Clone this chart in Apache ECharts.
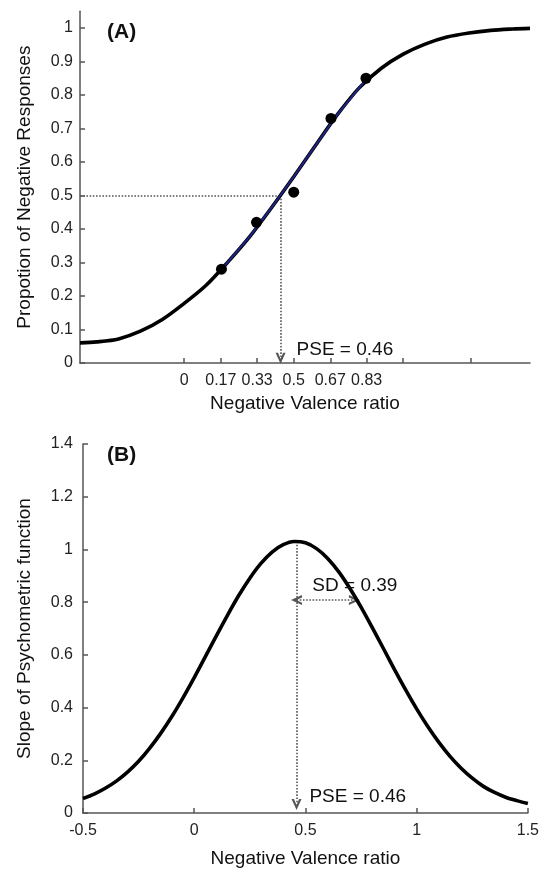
<!DOCTYPE html>
<html><head><meta charset="utf-8">
<script src="https://cdn.jsdelivr.net/npm/echarts@6.0.0/dist/echarts.min.js"></script>
<style>html,body{margin:0;padding:0;background:#fff}#c{width:542px;height:870px}</style>
</head><body><div id="c"></div>
<script>
// ---------- Panel (A): psychometric function ----------
const curveAx = [-0.476, -0.4, -0.3, -0.2, -0.1, 0, 0.1, 0.2, 0.3, 0.4, 0.5, 0.6, 0.7, 0.8, 0.9, 1.0, 1.1, 1.2, 1.3, 1.4, 1.5, 1.579];
const curveAy = [0.060, 0.063, 0.072, 0.095, 0.130, 0.178, 0.232, 0.302, 0.378, 0.465, 0.556, 0.650, 0.742, 0.822, 0.880, 0.922, 0.952, 0.973, 0.985, 0.993, 0.997, 0.999];
// fitted segment (drawn in dark blue over the black curve)
const fitAx = [0.17, 0.2, 0.3, 0.4, 0.5, 0.6, 0.7, 0.8, 0.83];
const fitAy = [0.280, 0.302, 0.378, 0.465, 0.556, 0.650, 0.742, 0.822, 0.845];
const dotsAx = [0.17, 0.33, 0.5, 0.67, 0.83];
const dotsAy = [0.28, 0.42, 0.51, 0.73, 0.85];
const xTickValuesA = [0, 0.167, 0.333, 0.5, 0.667, 0.833, 1.0, 1.31];
const xTickLabelsA = ['0', '0.17', '0.33', '0.5', '0.67', '0.83'];
const yTickValuesA = [0, 0.1, 0.2, 0.3, 0.4, 0.5, 0.6, 0.7, 0.8, 0.9, 1];
const yTickLabelsA = ['0', '0.1', '0.2', '0.3', '0.4', '0.5', '0.6', '0.7', '0.8', '0.9', '1'];
const pseDrawnA = 0.44;
const pseLevelA = 0.5;
const pseTextA = 'PSE = 0.46';
const xNameA = 'Negative Valence ratio';
const yNameA = 'Propotion of Negative Responses';

// ---------- Panel (B): slope of psychometric function ----------
const curveBx = [-0.5, -0.45, -0.4, -0.35, -0.3, -0.25, -0.2, -0.15, -0.1, -0.05, 0, 0.05, 0.1, 0.15, 0.2, 0.25, 0.3, 0.35, 0.4, 0.45, 0.5, 0.55, 0.6, 0.65, 0.7, 0.75, 0.8, 0.85, 0.9, 0.95, 1.0, 1.05, 1.1, 1.15, 1.2, 1.25, 1.3, 1.35, 1.4, 1.45, 1.5];
const curveBy = [0.055, 0.072, 0.094, 0.121, 0.155, 0.196, 0.246, 0.303, 0.367, 0.438, 0.514, 0.593, 0.673, 0.751, 0.825, 0.891, 0.947, 0.990, 1.018, 1.030, 1.025, 1.003, 0.966, 0.915, 0.852, 0.781, 0.704, 0.625, 0.545, 0.468, 0.395, 0.328, 0.268, 0.215, 0.170, 0.132, 0.101, 0.078, 0.060, 0.047, 0.036];
const pseDrawnB = 0.46;
const pseTextB = 'PSE = 0.46';
const sdFromB = 0.46, sdToB = 0.72, sdLevelB = 0.808;
const sdTextB = 'SD = 0.39';
const xNameB = 'Negative Valence ratio';
const yNameB = 'Slope of Psychometric function';

const FONT = "'Liberation Sans', Arial, sans-serif";
const chevron = 'path://M0,10 L5,0 L10,10 L7.6,10 L5,4.6 L2.4,10 Z';
const zip = (xs, ys) => xs.map((x, i) => [x, ys[i]]);
const lookup = (vals, labels) => (v) => { const i = vals.findIndex(t => Math.abs(t - v) < 1e-6); return i >= 0 && i < labels.length ? labels[i] : ''; };

const axisLineStyle = { color: '#555', width: 1.5 };
const dotted = { color: '#555', type: 'dotted', width: 1.6 };

const chart = echarts.init(document.getElementById('c'), null, { renderer: 'canvas' });
chart.setOption({
  animation: false,
  backgroundColor: '#fff',
  textStyle: { fontFamily: FONT },
  title: [
    { text: '(A)', left: 107, top: 22, padding: 0, textStyle: { fontFamily: FONT, fontSize: 21, fontWeight: 'bold', color: '#111' } },
    { text: '(B)', left: 107, top: 445, padding: 0, textStyle: { fontFamily: FONT, fontSize: 21, fontWeight: 'bold', color: '#111' } }
  ],
  grid: [
    { left: 80, right: 12, top: 11.25, height: 351.75 },
    { left: 83, right: 9, top: 444, height: 369 }
  ],
  xAxis: [
    {
      gridIndex: 0, type: 'value', min: -0.476, max: 1.579,
      name: xNameA, nameLocation: 'middle', nameGap: 31,
      nameTextStyle: { fontFamily: FONT, fontSize: 19, color: '#111' },
      axisLine: { show: true, onZero: false, lineStyle: axisLineStyle },
      axisTick: { show: true, inside: true, length: 5, lineStyle: axisLineStyle, customValues: xTickValuesA },
      axisLabel: { show: true, margin: 10, fontFamily: FONT, fontSize: 16, color: '#222', customValues: xTickValuesA.slice(0, xTickLabelsA.length), formatter: lookup(xTickValuesA, xTickLabelsA) },
      splitLine: { show: false }
    },
    {
      gridIndex: 1, type: 'value', min: -0.5, max: 1.5, interval: 0.5,
      name: xNameB, nameLocation: 'middle', nameGap: 36,
      nameTextStyle: { fontFamily: FONT, fontSize: 19, color: '#111' },
      axisLine: { show: true, onZero: false, lineStyle: axisLineStyle },
      axisTick: { show: true, inside: true, length: 5, lineStyle: axisLineStyle },
      axisLabel: { show: true, margin: 10, fontFamily: FONT, fontSize: 16, color: '#222', showMaxLabel: true, showMinLabel: true },
      splitLine: { show: false }
    }
  ],
  yAxis: [
    {
      gridIndex: 0, type: 'value', min: 0, max: 1.05,
      name: yNameA, nameLocation: 'middle', nameGap: 46,
      nameTextStyle: { fontFamily: FONT, fontSize: 19, color: '#111' },
      axisLine: { show: true, onZero: false, lineStyle: axisLineStyle },
      axisTick: { show: true, inside: true, length: 5, lineStyle: axisLineStyle, customValues: yTickValuesA },
      axisLabel: { show: true, margin: 7, fontFamily: FONT, fontSize: 16, color: '#222', customValues: yTickValuesA, formatter: lookup(yTickValuesA, yTickLabelsA) },
      splitLine: { show: false }
    },
    {
      gridIndex: 1, type: 'value', min: 0, max: 1.4, interval: 0.2,
      name: yNameB, nameLocation: 'middle', nameGap: 49,
      nameTextStyle: { fontFamily: FONT, fontSize: 19, color: '#111' },
      axisLine: { show: true, onZero: false, lineStyle: axisLineStyle },
      axisTick: { show: true, inside: true, length: 5, lineStyle: axisLineStyle },
      axisLabel: { show: true, margin: 10, fontFamily: FONT, fontSize: 16, color: '#222' },
      splitLine: { show: false }
    }
  ],
  series: [
    {
      type: 'line', xAxisIndex: 0, yAxisIndex: 0, data: zip(curveAx, curveAy),
      smooth: 0.3, showSymbol: false, symbol: 'none',
      lineStyle: { color: '#000', width: 3.6 }, z: 3,
      markLine: {
        silent: true, symbol: 'none', label: { show: false }, lineStyle: dotted, z: 2,
        data: [
          [{ coord: [-0.476, pseLevelA], symbol: 'none' }, { coord: [pseDrawnA, pseLevelA], symbol: 'none' }],
          [{ coord: [pseDrawnA, pseLevelA], symbol: 'none' }, { coord: [pseDrawnA, 0.014], symbol: chevron, symbolSize: [10, 11] }]
        ]
      },
      markPoint: {
        silent: true,
        data: [{ coord: [0.513, 0.04], symbol: 'circle', symbolSize: 0,
          label: { show: true, position: 'right', distance: 0, formatter: pseTextA, fontFamily: FONT, fontSize: 19, color: '#111' } }]
      }
    },
    {
      type: 'line', xAxisIndex: 0, yAxisIndex: 0, data: zip(fitAx, fitAy),
      smooth: false, showSymbol: false, symbol: 'none',
      lineStyle: { color: '#1f2485', width: 2 }, z: 4
    },
    {
      type: 'scatter', xAxisIndex: 0, yAxisIndex: 0, data: zip(dotsAx, dotsAy),
      symbol: 'circle', symbolSize: 11, itemStyle: { color: '#000', opacity: 1 }, z: 5
    },
    {
      type: 'line', xAxisIndex: 1, yAxisIndex: 1, data: zip(curveBx, curveBy),
      smooth: 0.3, showSymbol: false, symbol: 'none',
      lineStyle: { color: '#000', width: 3.6 }, z: 3,
      markLine: {
        silent: true, symbol: 'none', label: { show: false }, lineStyle: dotted, z: 2,
        data: [
          [{ coord: [pseDrawnB, 1.03], symbol: 'none' }, { coord: [pseDrawnB, 0.032], symbol: chevron, symbolSize: [10, 11] }],
          [{ coord: [sdFromB, sdLevelB], symbol: chevron, symbolSize: [10, 11] }, { coord: [sdToB, sdLevelB], symbol: chevron, symbolSize: [10, 11] }]
        ]
      },
      markPoint: {
        silent: true,
        data: [
          { coord: [0.518, 0.061], symbol: 'circle', symbolSize: 0,
            label: { show: true, position: 'right', distance: 0, formatter: pseTextB, fontFamily: FONT, fontSize: 19, color: '#111' } },
          { coord: [0.531, 0.861], symbol: 'circle', symbolSize: 0,
            label: { show: true, position: 'right', distance: 0, formatter: sdTextB, fontFamily: FONT, fontSize: 19, color: '#111' } }
        ]
      }
    }
  ]
});
</script>
</body></html>
